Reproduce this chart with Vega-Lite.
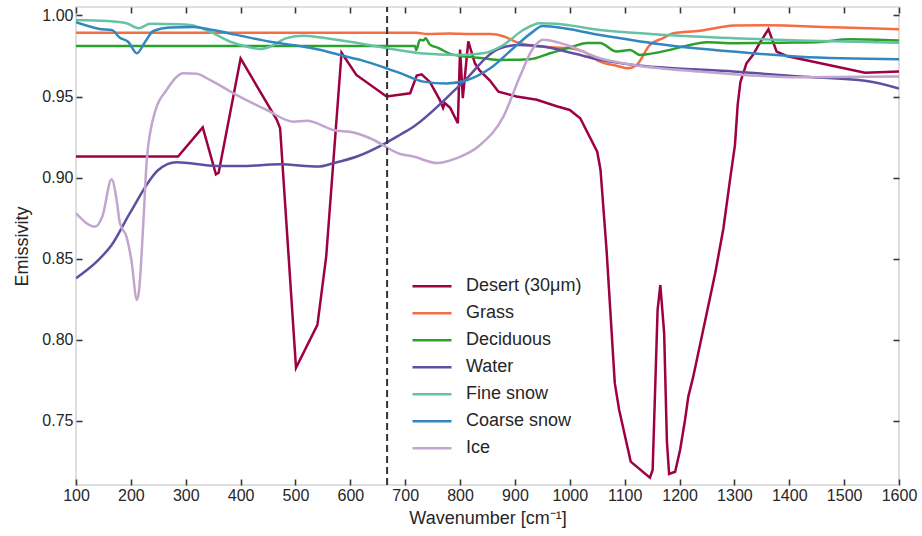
{
  "$schema": "https://vega.github.io/schema/vega-lite/v6.json",
  "width": 823,
  "height": 478,
  "autosize": {"type": "none"},
  "padding": {"left": 76, "top": 7, "right": 23, "bottom": 51},
  "background": "white",
  "config": {
    "view": {"stroke": "#d6d6d6", "strokeWidth": 1.6},
    "font": "Liberation Sans",
    "axis": {
      "domain": false,
      "grid": false,
      "labelFont": "Liberation Sans",
      "labelFontSize": 16,
      "labelColor": "#262626",
      "labelOverlap": false,
      "labelFlush": false,
      "titleFont": "Liberation Sans",
      "titleFontSize": 18,
      "titleFontWeight": "normal",
      "titleColor": "#262626"
    },
    "legend": {
      "labelFont": "Liberation Sans",
      "labelFontSize": 18,
      "labelColor": "#262626"
    }
  },
  "datasets": {
    "curves": [
      {"s": "Desert (30μm)", "x": 100, "y": 0.913},
      {"s": "Desert (30μm)", "x": 286, "y": 0.913},
      {"s": "Desert (30μm)", "x": 331, "y": 0.931},
      {"s": "Desert (30μm)", "x": 355, "y": 0.902},
      {"s": "Desert (30μm)", "x": 360, "y": 0.903},
      {"s": "Desert (30μm)", "x": 400, "y": 0.9735},
      {"s": "Desert (30μm)", "x": 466, "y": 0.9356},
      {"s": "Desert (30μm)", "x": 472, "y": 0.9305},
      {"s": "Desert (30μm)", "x": 501, "y": 0.7827},
      {"s": "Desert (30μm)", "x": 540, "y": 0.8092},
      {"s": "Desert (30μm)", "x": 556, "y": 0.8513},
      {"s": "Desert (30μm)", "x": 584, "y": 0.977},
      {"s": "Desert (30μm)", "x": 611, "y": 0.9633},
      {"s": "Desert (30μm)", "x": 666, "y": 0.95},
      {"s": "Desert (30μm)", "x": 709, "y": 0.952},
      {"s": "Desert (30μm)", "x": 721, "y": 0.963},
      {"s": "Desert (30μm)", "x": 730, "y": 0.9637},
      {"s": "Desert (30μm)", "x": 745, "y": 0.959},
      {"s": "Desert (30μm)", "x": 763, "y": 0.948},
      {"s": "Desert (30μm)", "x": 769, "y": 0.943},
      {"s": "Desert (30μm)", "x": 772, "y": 0.946},
      {"s": "Desert (30μm)", "x": 782, "y": 0.943},
      {"s": "Desert (30μm)", "x": 796, "y": 0.9335},
      {"s": "Desert (30μm)", "x": 800, "y": 0.979},
      {"s": "Desert (30μm)", "x": 805, "y": 0.949},
      {"s": "Desert (30μm)", "x": 815, "y": 0.984},
      {"s": "Desert (30μm)", "x": 827, "y": 0.9705},
      {"s": "Desert (30μm)", "x": 836, "y": 0.966},
      {"s": "Desert (30μm)", "x": 854, "y": 0.96},
      {"s": "Desert (30μm)", "x": 870, "y": 0.953},
      {"s": "Desert (30μm)", "x": 903, "y": 0.95},
      {"s": "Desert (30μm)", "x": 940, "y": 0.948},
      {"s": "Desert (30μm)", "x": 976, "y": 0.944},
      {"s": "Desert (30μm)", "x": 1000, "y": 0.9417},
      {"s": "Desert (30μm)", "x": 1019, "y": 0.9366},
      {"s": "Desert (30μm)", "x": 1050, "y": 0.916},
      {"s": "Desert (30μm)", "x": 1056, "y": 0.9047},
      {"s": "Desert (30μm)", "x": 1067, "y": 0.8554},
      {"s": "Desert (30μm)", "x": 1082, "y": 0.7733},
      {"s": "Desert (30μm)", "x": 1090, "y": 0.7568},
      {"s": "Desert (30μm)", "x": 1111, "y": 0.7249},
      {"s": "Desert (30μm)", "x": 1146, "y": 0.715},
      {"s": "Desert (30μm)", "x": 1151, "y": 0.7198},
      {"s": "Desert (30μm)", "x": 1160, "y": 0.8184},
      {"s": "Desert (30μm)", "x": 1165, "y": 0.8338},
      {"s": "Desert (30μm)", "x": 1172, "y": 0.804},
      {"s": "Desert (30μm)", "x": 1177, "y": 0.7372},
      {"s": "Desert (30μm)", "x": 1181, "y": 0.7173},
      {"s": "Desert (30μm)", "x": 1192, "y": 0.7187},
      {"s": "Desert (30μm)", "x": 1201, "y": 0.7321},
      {"s": "Desert (30μm)", "x": 1210, "y": 0.7506},
      {"s": "Desert (30μm)", "x": 1216, "y": 0.765},
      {"s": "Desert (30μm)", "x": 1225, "y": 0.7773},
      {"s": "Desert (30μm)", "x": 1265, "y": 0.841},
      {"s": "Desert (30μm)", "x": 1280, "y": 0.8688},
      {"s": "Desert (30μm)", "x": 1292, "y": 0.8986},
      {"s": "Desert (30μm)", "x": 1301, "y": 0.92},
      {"s": "Desert (30μm)", "x": 1306, "y": 0.945},
      {"s": "Desert (30μm)", "x": 1311, "y": 0.959},
      {"s": "Desert (30μm)", "x": 1322, "y": 0.9705},
      {"s": "Desert (30μm)", "x": 1334, "y": 0.9757},
      {"s": "Desert (30μm)", "x": 1346, "y": 0.9829},
      {"s": "Desert (30μm)", "x": 1362, "y": 0.9915},
      {"s": "Desert (30μm)", "x": 1377, "y": 0.9777},
      {"s": "Desert (30μm)", "x": 1395, "y": 0.975},
      {"s": "Desert (30μm)", "x": 1538, "y": 0.9647},
      {"s": "Desert (30μm)", "x": 1600, "y": 0.9654},

      {"s": "Grass", "x": 100, "y": 0.9894},
      {"s": "Grass", "x": 720, "y": 0.9894},
      {"s": "Grass", "x": 740, "y": 0.9885},
      {"s": "Grass", "x": 780, "y": 0.9888},
      {"s": "Grass", "x": 820, "y": 0.9885},
      {"s": "Grass", "x": 855, "y": 0.9885},
      {"s": "Grass", "x": 880, "y": 0.987},
      {"s": "Grass", "x": 903, "y": 0.9835},
      {"s": "Grass", "x": 946, "y": 0.9808},
      {"s": "Grass", "x": 1000, "y": 0.9798},
      {"s": "Grass", "x": 1025, "y": 0.9777},
      {"s": "Grass", "x": 1055, "y": 0.9715},
      {"s": "Grass", "x": 1085, "y": 0.969},
      {"s": "Grass", "x": 1107, "y": 0.9674},
      {"s": "Grass", "x": 1122, "y": 0.9695},
      {"s": "Grass", "x": 1146, "y": 0.9818},
      {"s": "Grass", "x": 1170, "y": 0.986},
      {"s": "Grass", "x": 1189, "y": 0.989},
      {"s": "Grass", "x": 1237, "y": 0.9905},
      {"s": "Grass", "x": 1274, "y": 0.9927},
      {"s": "Grass", "x": 1300, "y": 0.9938},
      {"s": "Grass", "x": 1359, "y": 0.994},
      {"s": "Grass", "x": 1480, "y": 0.9927},
      {"s": "Grass", "x": 1600, "y": 0.9915},

      {"s": "Deciduous", "x": 100, "y": 0.9812},
      {"s": "Deciduous", "x": 718, "y": 0.9812},
      {"s": "Deciduous", "x": 720, "y": 0.9787},
      {"s": "Deciduous", "x": 727, "y": 0.985},
      {"s": "Deciduous", "x": 733, "y": 0.9845},
      {"s": "Deciduous", "x": 737, "y": 0.986},
      {"s": "Deciduous", "x": 745, "y": 0.982},
      {"s": "Deciduous", "x": 760, "y": 0.98},
      {"s": "Deciduous", "x": 782, "y": 0.9763},
      {"s": "Deciduous", "x": 812, "y": 0.9746},
      {"s": "Deciduous", "x": 842, "y": 0.9736},
      {"s": "Deciduous", "x": 873, "y": 0.9726},
      {"s": "Deciduous", "x": 927, "y": 0.973},
      {"s": "Deciduous", "x": 964, "y": 0.9767},
      {"s": "Deciduous", "x": 1006, "y": 0.9808},
      {"s": "Deciduous", "x": 1031, "y": 0.983},
      {"s": "Deciduous", "x": 1055, "y": 0.983},
      {"s": "Deciduous", "x": 1085, "y": 0.9777},
      {"s": "Deciduous", "x": 1110, "y": 0.9787},
      {"s": "Deciduous", "x": 1128, "y": 0.9756},
      {"s": "Deciduous", "x": 1140, "y": 0.976},
      {"s": "Deciduous", "x": 1176, "y": 0.9783},
      {"s": "Deciduous", "x": 1207, "y": 0.9808},
      {"s": "Deciduous", "x": 1250, "y": 0.9835},
      {"s": "Deciduous", "x": 1298, "y": 0.9829},
      {"s": "Deciduous", "x": 1341, "y": 0.983},
      {"s": "Deciduous", "x": 1389, "y": 0.9832},
      {"s": "Deciduous", "x": 1450, "y": 0.9835},
      {"s": "Deciduous", "x": 1511, "y": 0.9853},
      {"s": "Deciduous", "x": 1600, "y": 0.9845},

      {"s": "Water", "x": 100, "y": 0.838},
      {"s": "Water", "x": 141, "y": 0.8493},
      {"s": "Water", "x": 165, "y": 0.8585},
      {"s": "Water", "x": 198, "y": 0.878},
      {"s": "Water", "x": 250, "y": 0.9047},
      {"s": "Water", "x": 283, "y": 0.9095},
      {"s": "Water", "x": 356, "y": 0.9072},
      {"s": "Water", "x": 400, "y": 0.9072},
      {"s": "Water", "x": 472, "y": 0.9082},
      {"s": "Water", "x": 541, "y": 0.9068},
      {"s": "Water", "x": 569, "y": 0.9089},
      {"s": "Water", "x": 612, "y": 0.913},
      {"s": "Water", "x": 666, "y": 0.9216},
      {"s": "Water", "x": 690, "y": 0.9263},
      {"s": "Water", "x": 715, "y": 0.9314},
      {"s": "Water", "x": 800, "y": 0.957},
      {"s": "Water", "x": 873, "y": 0.9798},
      {"s": "Water", "x": 909, "y": 0.9818},
      {"s": "Water", "x": 952, "y": 0.9808},
      {"s": "Water", "x": 1006, "y": 0.9767},
      {"s": "Water", "x": 1055, "y": 0.9726},
      {"s": "Water", "x": 1116, "y": 0.9695},
      {"s": "Water", "x": 1176, "y": 0.9678},
      {"s": "Water", "x": 1298, "y": 0.9654},
      {"s": "Water", "x": 1419, "y": 0.9623},
      {"s": "Water", "x": 1541, "y": 0.9596},
      {"s": "Water", "x": 1600, "y": 0.955},

      {"s": "Fine snow", "x": 100, "y": 0.9972},
      {"s": "Fine snow", "x": 156, "y": 0.9966},
      {"s": "Fine snow", "x": 192, "y": 0.9952},
      {"s": "Fine snow", "x": 214, "y": 0.9921},
      {"s": "Fine snow", "x": 235, "y": 0.9948},
      {"s": "Fine snow", "x": 284, "y": 0.9946},
      {"s": "Fine snow", "x": 308, "y": 0.9941},
      {"s": "Fine snow", "x": 344, "y": 0.99},
      {"s": "Fine snow", "x": 381, "y": 0.9838},
      {"s": "Fine snow", "x": 411, "y": 0.9808},
      {"s": "Fine snow", "x": 436, "y": 0.9793},
      {"s": "Fine snow", "x": 454, "y": 0.9808},
      {"s": "Fine snow", "x": 484, "y": 0.986},
      {"s": "Fine snow", "x": 514, "y": 0.9874},
      {"s": "Fine snow", "x": 542, "y": 0.9866},
      {"s": "Fine snow", "x": 599, "y": 0.9838},
      {"s": "Fine snow", "x": 666, "y": 0.9798},
      {"s": "Fine snow", "x": 727, "y": 0.9767},
      {"s": "Fine snow", "x": 800, "y": 0.9756},
      {"s": "Fine snow", "x": 842, "y": 0.9767},
      {"s": "Fine snow", "x": 879, "y": 0.9818},
      {"s": "Fine snow", "x": 915, "y": 0.991},
      {"s": "Fine snow", "x": 946, "y": 0.9952},
      {"s": "Fine snow", "x": 976, "y": 0.9948},
      {"s": "Fine snow", "x": 1055, "y": 0.991},
      {"s": "Fine snow", "x": 1176, "y": 0.988},
      {"s": "Fine snow", "x": 1298, "y": 0.986},
      {"s": "Fine snow", "x": 1419, "y": 0.9845},
      {"s": "Fine snow", "x": 1600, "y": 0.9832},

      {"s": "Coarse snow", "x": 100, "y": 0.9958},
      {"s": "Coarse snow", "x": 143, "y": 0.9917},
      {"s": "Coarse snow", "x": 165, "y": 0.991},
      {"s": "Coarse snow", "x": 180, "y": 0.9863},
      {"s": "Coarse snow", "x": 195, "y": 0.9838},
      {"s": "Coarse snow", "x": 211, "y": 0.9767},
      {"s": "Coarse snow", "x": 226, "y": 0.9838},
      {"s": "Coarse snow", "x": 241, "y": 0.9904},
      {"s": "Coarse snow", "x": 271, "y": 0.9925},
      {"s": "Coarse snow", "x": 314, "y": 0.9929},
      {"s": "Coarse snow", "x": 350, "y": 0.991},
      {"s": "Coarse snow", "x": 393, "y": 0.988},
      {"s": "Coarse snow", "x": 454, "y": 0.9838},
      {"s": "Coarse snow", "x": 514, "y": 0.9808},
      {"s": "Coarse snow", "x": 542, "y": 0.979},
      {"s": "Coarse snow", "x": 581, "y": 0.9756},
      {"s": "Coarse snow", "x": 618, "y": 0.9726},
      {"s": "Coarse snow", "x": 666, "y": 0.9674},
      {"s": "Coarse snow", "x": 691, "y": 0.9644},
      {"s": "Coarse snow", "x": 733, "y": 0.9592},
      {"s": "Coarse snow", "x": 776, "y": 0.958},
      {"s": "Coarse snow", "x": 812, "y": 0.96},
      {"s": "Coarse snow", "x": 855, "y": 0.9674},
      {"s": "Coarse snow", "x": 897, "y": 0.9798},
      {"s": "Coarse snow", "x": 933, "y": 0.99},
      {"s": "Coarse snow", "x": 950, "y": 0.9935},
      {"s": "Coarse snow", "x": 970, "y": 0.993},
      {"s": "Coarse snow", "x": 1055, "y": 0.988},
      {"s": "Coarse snow", "x": 1176, "y": 0.9818},
      {"s": "Coarse snow", "x": 1298, "y": 0.9777},
      {"s": "Coarse snow", "x": 1419, "y": 0.9746},
      {"s": "Coarse snow", "x": 1600, "y": 0.973},

      {"s": "Ice", "x": 100, "y": 0.878},
      {"s": "Ice", "x": 135, "y": 0.8698},
      {"s": "Ice", "x": 148, "y": 0.876},
      {"s": "Ice", "x": 165, "y": 0.899},
      {"s": "Ice", "x": 174, "y": 0.8863},
      {"s": "Ice", "x": 180, "y": 0.872},
      {"s": "Ice", "x": 192, "y": 0.8636},
      {"s": "Ice", "x": 201, "y": 0.849},
      {"s": "Ice", "x": 211, "y": 0.8246},
      {"s": "Ice", "x": 215, "y": 0.8308},
      {"s": "Ice", "x": 223, "y": 0.874},
      {"s": "Ice", "x": 229, "y": 0.911},
      {"s": "Ice", "x": 235, "y": 0.9274},
      {"s": "Ice", "x": 245, "y": 0.9417},
      {"s": "Ice", "x": 265, "y": 0.954},
      {"s": "Ice", "x": 296, "y": 0.9644},
      {"s": "Ice", "x": 320, "y": 0.964},
      {"s": "Ice", "x": 344, "y": 0.9602},
      {"s": "Ice", "x": 387, "y": 0.952},
      {"s": "Ice", "x": 448, "y": 0.9417},
      {"s": "Ice", "x": 496, "y": 0.9345},
      {"s": "Ice", "x": 521, "y": 0.935},
      {"s": "Ice", "x": 569, "y": 0.9294},
      {"s": "Ice", "x": 606, "y": 0.9278},
      {"s": "Ice", "x": 636, "y": 0.9243},
      {"s": "Ice", "x": 691, "y": 0.9146},
      {"s": "Ice", "x": 715, "y": 0.913},
      {"s": "Ice", "x": 758, "y": 0.909},
      {"s": "Ice", "x": 794, "y": 0.912},
      {"s": "Ice", "x": 836, "y": 0.92},
      {"s": "Ice", "x": 879, "y": 0.9376},
      {"s": "Ice", "x": 909, "y": 0.9623},
      {"s": "Ice", "x": 933, "y": 0.9798},
      {"s": "Ice", "x": 952, "y": 0.985},
      {"s": "Ice", "x": 994, "y": 0.9818},
      {"s": "Ice", "x": 1055, "y": 0.9736},
      {"s": "Ice", "x": 1116, "y": 0.9695},
      {"s": "Ice", "x": 1237, "y": 0.9654},
      {"s": "Ice", "x": 1419, "y": 0.9619},
      {"s": "Ice", "x": 1600, "y": 0.9623}
    ],
    "marker": [{"x": 667, "ylo": 0.7105, "yhi": 1.0052}]
  },
  "resolve": {"axis": {"x": "independent", "y": "independent"}},
  "layer": [
    {
      "data": {"name": "curves"},
      "transform": [{"filter": "datum.s === 'Desert (30μm)'"}],
      "mark": {"type": "line", "strokeWidth": 2.5, "interpolate": "linear", "clip": true},
      "encoding": {
        "x": {"field": "x", "type": "quantitative", "scale": {"domain": [100, 1600], "nice": false, "zero": false},
          "axis": {"orient": "bottom", "values": [100,200,300,400,500,600,700,800,900,1000,1100,1200,1300,1400,1500,1600], "format": "d", "ticks": true, "tickSize": -6, "tickColor": "#3a3a3a", "tickWidth": 1.6, "zindex": 1, "labelPadding": 8, "title": "Wavenumber [cm⁻¹]", "titlePadding": 6}},
        "y": {"field": "y", "type": "quantitative", "scale": {"domain": [0.7105, 1.0052], "nice": false, "zero": false},
          "axis": {"orient": "left", "values": [0.75,0.8,0.85,0.9,0.95,1.0], "format": ".2f", "ticks": true, "tickSize": -6, "tickColor": "#3a3a3a", "tickWidth": 1.6, "zindex": 1, "labelPadding": 9, "title": "Emissivity", "titlePadding": 10}},
        "color": {"field": "s", "type": "nominal",
          "scale": {"domain": ["Desert (30μm)", "Grass", "Deciduous", "Water", "Fine snow", "Coarse snow", "Ice"],
                    "range": ["#9e0142", "#f46d43", "#2ca02c", "#5e4fa2", "#66c2a5", "#3288bd", "#c2a5cf"]},
          "legend": {"title": null, "orient": "none", "legendX": 335, "legendY": 266, "padding": 0,
                     "symbolType": "stroke", "symbolSize": 1521, "symbolStrokeWidth": 2.5,
                     "clipHeight": 26.3, "rowPadding": 0, "labelOffset": 13}}
      }
    },
    {
      "data": {"name": "curves"},
      "transform": [{"filter": "datum.s !== 'Desert (30μm)'"}],
      "mark": {"type": "line", "strokeWidth": 2.5, "interpolate": "monotone", "clip": true},
      "encoding": {
        "x": {"field": "x", "type": "quantitative", "axis": null},
        "y": {"field": "y", "type": "quantitative", "axis": null},
        "color": {"field": "s", "type": "nominal"}
      }
    },
    {
      "data": {"name": "marker"},
      "mark": {"type": "rule", "color": "#333333", "strokeWidth": 2, "strokeDash": [7, 4]},
      "encoding": {
        "x": {"field": "x", "type": "quantitative",
          "axis": {"orient": "top", "values": [100,200,300,400,500,600,700,800,900,1000,1100,1200,1300,1400,1500,1600], "labels": false, "title": "", "ticks": true, "tickSize": -6, "tickColor": "#3a3a3a", "tickWidth": 1.6, "zindex": 1}},
        "y": {"field": "ylo", "type": "quantitative",
          "axis": {"orient": "right", "values": [0.75,0.8,0.85,0.9,0.95,1.0], "labels": false, "title": "", "ticks": true, "tickSize": -6, "tickColor": "#3a3a3a", "tickWidth": 1.6, "zindex": 1}},
        "y2": {"field": "yhi"}
      }
    }
  ]
}
